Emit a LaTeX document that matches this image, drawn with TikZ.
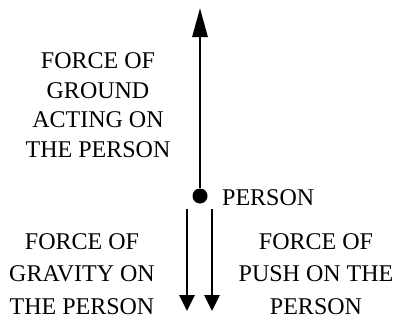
\documentclass[tikz,border=0pt]{standalone}
\usepackage{fontspec}
\setmainfont{Liberation Serif}
\usetikzlibrary{arrows.meta,positioning}
\tikzset{
  rotulo/.style={inner sep=0pt, align=center, font=\fontsize{24}{#1}\selectfont},
  rotulo/.default=29.5,
  ponto/.style={circle, fill=black, inner sep=0pt, minimum size=15pt},
  setacima/.style={-{Triangle[length=29pt, width=15pt]}, line width=2.8pt},
  setabaixo/.style={-{Triangle[length=16pt, width=15pt]}, line width=2.8pt},
}
\begin{document}
\begin{tikzpicture}[x=1pt, y=-1pt]
  \useasboundingbox (0,0) rectangle (393,324);
  \node[ponto] (pessoa) at (200,196) {};
  \coordinate (topo) at (200,8);
  \coordinate (g1) at (187,209);
  \coordinate (g2) at (187,311);
  \coordinate (e1) at (212,209);
  \coordinate (e2) at (212,311);
  \draw[setacima] (pessoa) -- (topo);
  \draw[setabaixo] (g1) -- (g2);
  \draw[setabaixo] (e1) -- (e2);
  \node[rotulo, anchor=west] (nomepessoa) at (222,198) {PERSON};
  \node[rotulo] (chao) at (98,105) {FORCE OF\\GROUND\\ACTING ON\\THE PERSON};
  \node[rotulo=32.5] (gravidade) at (82,274) {FORCE OF\\GRAVITY ON\\THE PERSON};
  \node[rotulo=32.5] (empurrao) at (316,274) {FORCE OF\\PUSH ON THE\\PERSON};
\end{tikzpicture}
\end{document}
